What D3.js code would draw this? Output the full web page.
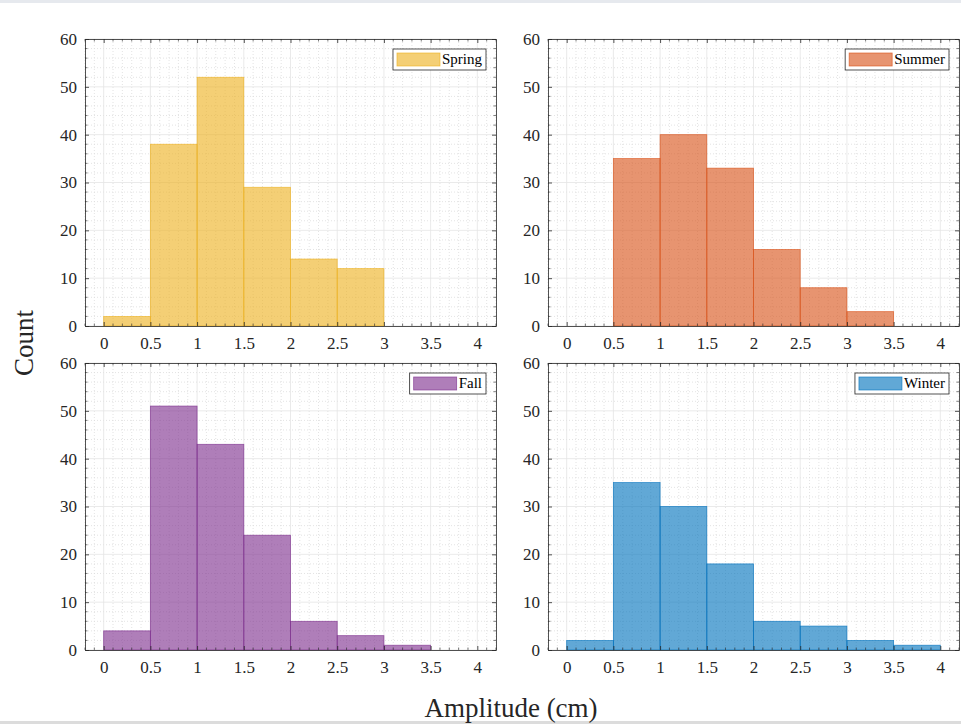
<!DOCTYPE html>
<html>
<head>
<meta charset="utf-8">
<script src="https://cdn.jsdelivr.net/npm/d3@7"></script>
<style>
  body { margin: 0; background: #fff; }
  svg { display: block; font-family: "Liberation Serif", serif; }
</style>
</head>
<body>
<svg id="chart" width="961" height="724"></svg>
<script>
// Bin edges (cm) shared by all four seasons
const binEdges = [0, 0.5, 1, 1.5, 2, 2.5, 3, 3.5, 4];
const seasons = ["Spring", "Summer", "Fall", "Winter"];
const springCounts = [2, 38, 52, 29, 14, 12, 0, 0];
const summerCounts = [0, 35, 40, 33, 16, 8, 3, 0];
const fallCounts   = [4, 51, 43, 24, 6, 3, 1, 0];
const winterCounts = [2, 35, 30, 18, 6, 5, 2, 1];
const seasonColors = ["#EDB120", "#D95319", "#7E2F8E", "#0072BD"];
const xTickValues = [0, 0.5, 1, 1.5, 2, 2.5, 3, 3.5, 4];
const xTickLabels = ["0", "0.5", "1", "1.5", "2", "2.5", "3", "3.5", "4"];
const yTickValues = [0, 10, 20, 30, 40, 50, 60];

const counts = [springCounts, summerCounts, fallCounts, winterCounts];
const serif = "Liberation Serif, serif";

const svg = d3.select("#chart");

// faint strips along the top and bottom edges
svg.append("rect").attr("x", 0).attr("y", 0).attr("width", 961).attr("height", 3)
  .attr("fill", "#e6e9ee");
svg.append("rect").attr("x", 0).attr("y", 721).attr("width", 961).attr("height", 3)
  .attr("fill", "#dcdcdc");

const panelW = 411, panelH = 287;
const panelPos = [
  { x: 85, y: 39 }, { x: 548, y: 39 },
  { x: 85, y: 363 }, { x: 548, y: 363 }
];

const x = d3.scaleLinear().domain([-0.2, 4.2]).range([0, panelW]);
const y = d3.scaleLinear().domain([0, 60]).range([panelH, 0]);

const minorX = d3.range(-2, 43).map(d => d / 10)
  .filter(v => Math.abs(v * 2 - Math.round(v * 2)) > 1e-6);
const minorY = d3.range(0, 61, 2).filter(v => v % 10 !== 0);

seasons.forEach((name, i) => {
  const p = panelPos[i];
  const g = svg.append("g").attr("transform", `translate(${p.x},${p.y})`);

  // minor grid (dotted)
  g.append("g").selectAll("line").data(minorX)
    .join("line")
    .attr("x1", d => x(d)).attr("x2", d => x(d)).attr("y1", 0).attr("y2", panelH)
    .attr("stroke", "#dcdcdc").attr("stroke-width", 0.8).attr("stroke-dasharray", "1,2");
  g.append("g").selectAll("line").data(minorY)
    .join("line")
    .attr("x1", 0).attr("x2", panelW).attr("y1", d => y(d)).attr("y2", d => y(d))
    .attr("stroke", "#dcdcdc").attr("stroke-width", 0.8).attr("stroke-dasharray", "1,2");

  // major grid
  g.append("g").selectAll("line").data(xTickValues)
    .join("line")
    .attr("x1", d => x(d)).attr("x2", d => x(d)).attr("y1", 0).attr("y2", panelH)
    .attr("stroke", "#e4e4e4").attr("stroke-width", 0.8);
  g.append("g").selectAll("line").data(yTickValues)
    .join("line")
    .attr("x1", 0).attr("x2", panelW).attr("y1", d => y(d)).attr("y2", d => y(d))
    .attr("stroke", "#e4e4e4").attr("stroke-width", 0.8);

  // histogram bars
  const bins = counts[i].map((c, k) => ({ x0: binEdges[k], x1: binEdges[k + 1], c }))
    .filter(b => b.c > 0);
  g.append("g").selectAll("rect").data(bins)
    .join("rect")
    .attr("x", d => x(d.x0)).attr("width", d => x(d.x1) - x(d.x0))
    .attr("y", d => y(d.c)).attr("height", d => y(0) - y(d.c))
    .attr("fill", seasonColors[i]).attr("fill-opacity", 0.62)
    .attr("stroke", seasonColors[i]).attr("stroke-opacity", 0.75).attr("stroke-width", 0.8);

  // axes: box with inward ticks on all four sides
  const axisColor = "#262626";
  const bottom = d3.axisBottom(x).tickValues(xTickValues).tickFormat((d, k) => xTickLabels[k])
    .tickSizeInner(-4).tickSizeOuter(0).tickPadding(11);
  const ax = g.append("g").attr("transform", `translate(0,${panelH})`).call(bottom);
  const left = d3.axisLeft(y).tickValues(yTickValues).tickFormat(d3.format("d"))
    .tickSizeInner(-4).tickSizeOuter(0).tickPadding(8);
  const ay = g.append("g").call(left);
  const top = d3.axisTop(x).tickValues(xTickValues).tickFormat("").tickSizeInner(-4).tickSizeOuter(0);
  const at = g.append("g").call(top);
  const right = d3.axisRight(y).tickValues(yTickValues).tickFormat("").tickSizeInner(-4).tickSizeOuter(0);
  const ar = g.append("g").attr("transform", `translate(${panelW},0)`).call(right);

  [ax, ay, at, ar].forEach(a => {
    a.attr("font-family", serif).attr("font-size", 17);
    a.select(".domain").attr("stroke", axisColor).attr("stroke-width", 0.8);
    a.selectAll(".tick line").attr("stroke", axisColor).attr("stroke-width", 0.8);
    a.selectAll("text").attr("fill", "#262626");
  });

  // minor ticks
  const mt = g.append("g").attr("stroke", axisColor).attr("stroke-width", 0.6);
  minorX.forEach(v => {
    mt.append("line").attr("x1", x(v)).attr("x2", x(v)).attr("y1", panelH).attr("y2", panelH - 2.5);
    mt.append("line").attr("x1", x(v)).attr("x2", x(v)).attr("y1", 0).attr("y2", 2.5);
  });
  minorY.forEach(v => {
    mt.append("line").attr("x1", 0).attr("x2", 2.5).attr("y1", y(v)).attr("y2", y(v));
    mt.append("line").attr("x1", panelW).attr("x2", panelW - 2.5).attr("y1", y(v)).attr("y2", y(v));
  });

  // legend
  const lg = g.append("g");
  const txt = lg.append("text").text(name)
    .attr("font-family", serif).attr("font-size", 15).attr("fill", "#000");
  const tw = txt.node().getComputedTextLength();
  const swW = 43, pad = 4, boxH = 21;
  const boxW = pad + swW + 2 + tw + pad;
  const bx = panelW - 10 - boxW, by = 10;
  lg.insert("rect", "text").attr("x", bx).attr("y", by).attr("width", boxW).attr("height", boxH)
    .attr("fill", "#fff").attr("stroke", "#262626").attr("stroke-width", 0.8);
  lg.insert("rect", "text").attr("x", bx + pad).attr("y", by + 4).attr("width", swW).attr("height", boxH - 8)
    .attr("fill", seasonColors[i]).attr("fill-opacity", 0.62)
    .attr("stroke", seasonColors[i]).attr("stroke-opacity", 0.75).attr("stroke-width", 0.8);
  txt.attr("x", bx + pad + swW + 2).attr("y", by + 15);
});

// shared axis titles
svg.append("text").attr("x", 511).attr("y", 717).attr("text-anchor", "middle")
  .attr("font-family", serif).attr("font-size", 27).attr("fill", "#262626").text("Amplitude (cm)");
svg.append("text").attr("transform", "translate(33,343) rotate(-90)").attr("text-anchor", "middle")
  .attr("font-family", serif).attr("font-size", 27).attr("fill", "#262626").text("Count");
</script>
</body>
</html>
